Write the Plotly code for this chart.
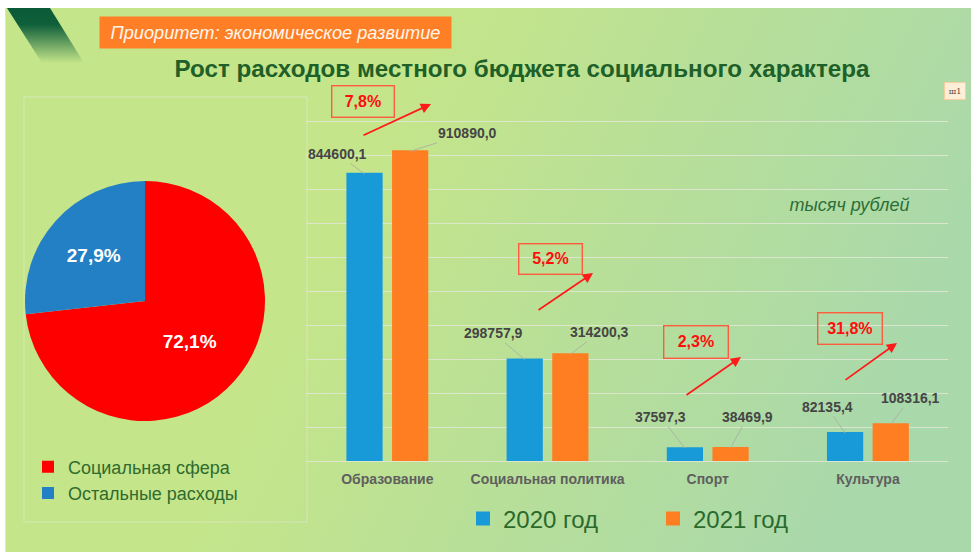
import base64
import plotly.graph_objects as go

W, H = 971, 552

# ---- data ----
categories = ["Образование", "Социальная политика", "Спорт", "Культура"]
values_2020 = [844600.1, 298757.9, 37597.3, 82135.4]
values_2021 = [910890.0, 314200.3, 38469.9, 108316.1]
labels_2020 = ["844600,1", "298757,9", "37597,3", "82135,4"]
labels_2021 = ["910890,0", "314200,3", "38469,9", "108316,1"]
growth_labels = ["7,8%", "5,2%", "2,3%", "31,8%"]
pie_labels = ["Социальная сфера", "Остальные расходы"]
# The reference prints 72,1% / 27,9%, but its slices are drawn at about 73,25 / 26,75.
# Both are kept as seen: printed text and measured slice sizes.
pie_printed = ["72,1%", "27,9%"]
pie_slice_sizes = [73.25, 26.75]

# ---- layout helpers (page pixels -> paper fractions) ----
px = lambda x: x / W
py = lambda y: 1 - y / H

FONT = "Liberation Sans"
BLUE, ORANGE = "#189ad9", "#ff7e22"
GREEN = "#1f5f28"
GRID = "rgba(226,232,214,0.85)"

svg = f'''<svg xmlns="http://www.w3.org/2000/svg" width="{W}" height="{H}" viewBox="0 0 {W} {H}">
<defs>
<linearGradient id="bg" gradientUnits="userSpaceOnUse" x1="370" y1="180" x2="880" y2="430">
<stop offset="0" stop-color="#c4e58a"/><stop offset="1" stop-color="#a9d8ab"/></linearGradient>
<linearGradient id="cn" gradientUnits="userSpaceOnUse" x1="0" y1="8" x2="0" y2="63">
<stop offset="0" stop-color="#0b5a38"/><stop offset="0.3" stop-color="#0f5f3a"/>
<stop offset="1" stop-color="#0f5f3a" stop-opacity="0"/></linearGradient>
</defs>
<rect x="0" y="0" width="{W}" height="{H}" fill="#ffffff"/>
<rect x="5" y="8" width="2" height="{H}" fill="#dfe4d8"/>
<rect x="6" y="8" width="{W}" height="{H}" fill="url(#bg)"/>
<polygon points="7,8 50,8 84,63 42,63" fill="url(#cn)"/>
</svg>'''
bg_uri = "data:image/svg+xml;base64," + base64.b64encode(svg.encode()).decode()

fig = go.Figure()

fig.add_trace(go.Pie(
    labels=pie_labels, values=pie_slice_sizes, sort=False, direction="clockwise", rotation=0,
    marker=dict(colors=["#ff0000", "#2480c4"]),
    domain=dict(x=[px(25), px(265)], y=[py(421), py(181)]),
    text=pie_printed, textinfo="text", textposition="inside",
    insidetextorientation="horizontal",
    textfont=dict(family=FONT, size=19, color="white", weight=700),
    legend="legend2", hovertemplate="%{label}: %{text}<extra></extra>",
))

for name, vals, col in (("2020 год", values_2020, BLUE), ("2021 год", values_2021, ORANGE)):
    fig.add_trace(go.Bar(
        name=name, x=categories, y=vals,
        marker=dict(color=col, line=dict(color=col, width=2)),
        legend="legend",
    ))

ann = []


def box(text, x0, y0, x1, y1, **kw):
    ann.append(dict(xref="paper", yref="paper", x=px((x0 + x1) / 2), y=py((y0 + y1) / 2),
                    xanchor="center", yanchor="middle", showarrow=False, text=text,
                    width=x1 - x0, height=y1 - y0, **kw))


# header
box("Приоритет: экономическое развитие", 101, 18, 450, 47, bgcolor="#ff7f27", align="center",
    font=dict(family=FONT, size=18.2, color="#fff6ea", style="italic"))
# growth boxes
growth_boxes = [(332, 86, 393, 116), (519, 245, 581, 274), (664, 326, 727, 357), (818, 313, 881, 343)]
for t, b in zip(growth_labels, growth_boxes):
    box(t, *b, bordercolor="#ff5b3e", borderwidth=1.4, borderpad=0,
        font=dict(family=FONT, size=16, color="#ff0d0d", weight=700))
# growth arrows (tail, head)
growth_arrows = [((362, 136), (431, 104)), ((537, 311), (593, 273)),
                 ((685, 396), (741, 357)), ((844, 381), (897, 343))]
for (x0, y0), (x1, y1) in growth_arrows:
    ann.append(dict(xref="paper", yref="paper", x=px(x1), y=py(y1), ax=x0 - x1, ay=y0 - y1,
                    axref="pixel", ayref="pixel", text="", showarrow=True, arrowhead=2,
                    arrowsize=1.2, arrowwidth=1.7, arrowcolor="#ff1a1a"))
# units, comment bubble
box("тысяч рублей", 785, 194, 914, 216, font=dict(family=FONT, size=18, color="#2c6e38", style="italic"))
box("ш1", 946, 84, 964, 98, bgcolor="#fdeed8", bordercolor="#f6cfa0", borderwidth=1,
    font=dict(family="DejaVu Serif", size=8, color="#5a4a3a"))

# value labels with leader lines
offset_2020 = [(-27, -20), (-31, -26), (-24, -31), (-18, -26)]
offset_2021 = [(57, -18), (29.5, -22), (17, -31), (20, -26)]
SHIFT = 0.1426
for i in range(4):
    for vals, labs, offs, sgn in ((values_2020, labels_2020, offset_2020, -1),
                                  (values_2021, labels_2021, offset_2021, 1)):
        ann.append(dict(xref="x", yref="y", x=i + sgn * SHIFT, y=vals[i], ax=offs[i][0], ay=offs[i][1],
                        axref="pixel", ayref="pixel", text=labs[i], showarrow=True, arrowhead=0,
                        arrowwidth=1, arrowcolor="rgba(170,178,165,0.9)",
                        font=dict(family=FONT, size=14, color="#454545", weight=700)))

fig.update_layout(
    width=W, height=H, autosize=False,
    margin=dict(l=0, r=0, t=0, b=0),
    paper_bgcolor="white", plot_bgcolor="rgba(0,0,0,0)",
    separators=", ",
    font=dict(family=FONT),
    title=dict(text="Рост расходов местного бюджета социального характера",
               x=px(522), y=py(69), xref="paper", yref="paper", xanchor="center", yanchor="middle",
               font=dict(family=FONT, size=24.2, color=GREEN, weight=700)),
    barmode="group", bargap=0.43, bargroupgap=0.25,
    xaxis=dict(domain=[px(306), px(948)], type="category", showgrid=False, showline=False,
               ticks="", tickfont=dict(family=FONT, size=14, color="#5f5f5f", weight=700),
               ticklen=0, ticklabelstandoff=8, automargin=False),
    yaxis=dict(domain=[py(461), py(119)], range=[0, 1006000], dtick=100000, showticklabels=False,
               showgrid=True, gridcolor=GRID, gridwidth=1.3, zeroline=True, zerolinecolor=GRID,
               zerolinewidth=1.3, showline=False, ticks="", automargin=False),
    legend=dict(orientation="h", x=px(463), y=py(519), xanchor="left", yanchor="middle",
                bgcolor="rgba(0,0,0,0)", entrywidth=145, entrywidthmode="pixels",
                font=dict(family=FONT, size=24, color="#2a6a2c"), traceorder="normal"),
    legend2=dict(orientation="v", x=px(28), y=py(480), xanchor="left", yanchor="middle",
                 bgcolor="rgba(0,0,0,0)", itemwidth=30,
                 font=dict(family=FONT, size=18, color="#2f6b2f")),
    images=[dict(source=bg_uri, xref="paper", yref="paper", x=0, y=1, sizex=1, sizey=1,
                 sizing="stretch", xanchor="left", yanchor="top", layer="below")],
    shapes=[dict(type="rect", xref="paper", yref="paper", x0=px(24), x1=px(307), y0=py(522), y1=py(97),
                 line=dict(color="rgba(226,232,214,0.6)", width=1), layer="below")],
    annotations=ann,
)

fig.write_html("out.html", config={"displayModeBar": False},
               post_script="document.body.style.margin='0';")
